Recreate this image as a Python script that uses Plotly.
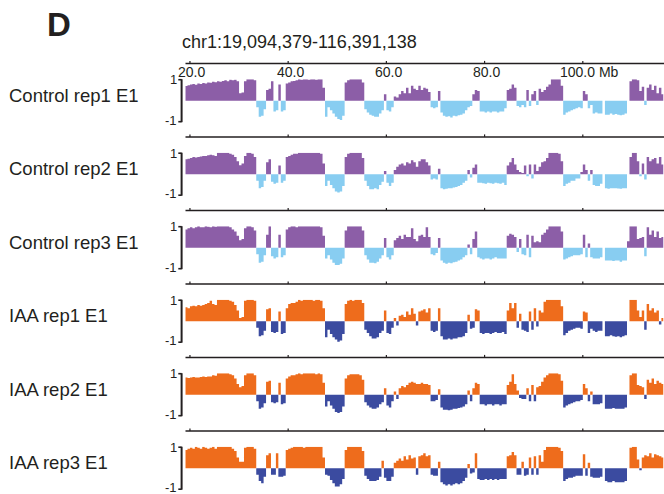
import plotly.graph_objects as go

# ---------------- data (E1 eigenvector, 0.5 Mb bins, chr1) ----------------
region_label = "chr1:19,094,379-116,391,138"
x_start_mb, x_end_mb = 19.094379, 116.391138
bin_size_mb = 0.5
bin_start_mb = [19.0 + bin_size_mb * i for i in range(195)]

ruler_ticks = [20, 40, 60, 80, 100]
ruler_tick_labels = ["20.0", "40.0", "60.0", "80.0", "100.0 Mb"]

track_names = ["Control rep1 E1", "Control rep2 E1", "Control rep3 E1",
               "IAA rep1 E1", "IAA rep2 E1", "IAA rep3 E1"]

ctrl_rep1 = [
    0.68, 0.72, 0.75, 0.78, 0.74, 0.80, 0.78, 0.82, 0.80, 0.85,
    0.83, 0.88, 0.86, 0.90, 0.88, 0.92, 0.95, 0.90, 0.97, 0.95,
    0.98, 0.90, 0.35, 0.38, 0.90, 1.00, 1.00, 1.00, 0.95, -0.30,
    -0.75, -0.70, -0.40, 0.50, 0.55, 0.90, -0.50, -0.45, 0.75, -0.50,
    -0.45, 0.80, 0.85, 0.90, 0.92, 0.95, 1.00, 0.97, 1.00, 1.00,
    0.98, 1.00, 1.00, 0.97, 1.00, 1.00, 0.60, -0.75, -0.30, -0.45,
    -0.60, -0.75, -0.85, -0.90, -0.70, 0.85, 0.95, 1.00, 1.00, 1.00,
    1.00, 1.00, 0.85, -0.40, -0.55, -0.65, -0.70, -0.75, -0.75, -0.60,
    -0.45, 0.30, -0.45, -0.50, -0.30, 0.20, 0.15, 0.30, 0.45, 0.35,
    0.60, 0.35, 0.70, 0.55, 0.50, 0.70, 0.50, 0.60, 0.55, 0.40,
    -0.30, -0.35, -0.30, 0.45, -0.55, -0.70, -0.75, -0.72, -0.78, -0.70,
    -0.72, -0.68, -0.65, -0.60, -0.45, -0.30, -0.25, 0.30, 0.50, 0.45,
    -0.50, -0.50, -0.55, -0.50, -0.55, -0.50, -0.50, -0.55, -0.50, -0.50,
    -0.35, 0.50, 0.55, 0.75, 0.60, -0.25, -0.30, -0.20, -0.30, 0.50,
    -0.25, 0.30, 0.45, -0.20, 0.55, 0.40, 0.50, 0.65, 0.75, 1.00,
    1.00, 1.00, 1.00, 0.70, -0.65, -0.55, -0.50, -0.45, -0.40, -0.35,
    -0.30, -0.35, 0.45, 0.30, -0.35, -0.20, -0.60, -0.55, -0.60, -0.60,
    0.00, -0.65, -0.65, -0.60, -0.65, -0.62, -0.65, -0.68, -0.65, -0.60,
    0.00, 0.90, 1.00, 1.00, 0.95, 0.45, 0.65, -0.20, 0.60, 0.75,
    0.50, 0.70, 0.35, 0.60, 0.30,
]

ctrl_rep2 = [
    0.70, 0.72, 0.75, 0.80, 0.78, 0.80, 0.82, 0.85, 0.85, 0.88,
    0.90, 0.88, 0.85, 1.00, 1.00, 1.00, 1.00, 1.00, 0.95, 0.90,
    0.80, 0.60, 0.42, 0.50, 0.85, 1.00, 1.00, 0.95, 0.80, -0.30,
    -0.65, -0.60, -0.30, 0.55, 0.70, -0.35, -0.45, -0.40, 0.40, -0.40,
    -0.30, 0.80, 0.85, 0.90, 0.95, 0.95, 1.00, 1.00, 1.00, 1.00,
    1.00, 1.00, 1.00, 1.00, 1.00, 0.95, 0.50, -0.55, -0.30, -0.50,
    -0.65, -0.80, -0.85, -0.80, -0.55, 0.80, 0.95, 1.00, 1.00, 1.00,
    1.00, 1.00, 0.75, -0.30, -0.55, -0.70, -0.70, -0.65, -0.70, -0.50,
    -0.35, 0.15, -0.40, -0.55, -0.40, 0.20, 0.35, 0.45, 0.50, 0.40,
    0.55, 0.50, 0.65, 0.55, 0.35, 0.60, 0.70, 0.70, 0.55, 0.40,
    -0.25, -0.20, -0.25, 0.25, -0.65, -0.70, -0.68, -0.65, -0.65, -0.62,
    -0.60, -0.55, -0.50, -0.40, -0.30, 0.20, -0.15, 0.30, 0.45, -0.40,
    -0.40, -0.42, -0.45, -0.40, -0.42, -0.45, -0.40, -0.42, -0.45, -0.40,
    -0.50, 0.40, 0.55, 0.75, 0.45, 0.20, 0.10, 0.05, 0.40, -0.10,
    0.45, -0.20, 0.45, 0.15, 0.35, 0.55, 0.60, 0.75, 1.00, 1.00,
    1.00, 1.00, 0.95, 0.60, -0.55, -0.45, -0.40, -0.30, -0.30, -0.20,
    -0.20, 0.10, 0.45, 0.20, -0.30, 0.20, -0.50, -0.55, -0.55, -0.45,
    0.00, -0.65, -0.68, -0.65, -0.65, -0.65, -0.67, -0.68, -0.65, -0.65,
    0.00, 0.80, 1.00, 1.00, 0.60, -0.10, 0.50, -0.25, 0.80, 0.60,
    0.70, 0.75, 0.50, 0.80, 0.45,
]

ctrl_rep3 = [
    0.85, 0.90, 0.95, 0.90, 0.95, 1.00, 0.95, 0.95, 1.00, 0.98,
    0.95, 1.00, 0.98, 1.00, 1.00, 1.00, 1.00, 1.00, 0.95, 0.85,
    0.75, 0.55, 0.35, 0.40, 0.90, 1.00, 1.00, 0.95, 0.80, -0.30,
    -0.70, -0.65, -0.35, 0.60, 1.00, -0.40, -0.50, -0.45, 0.60, -0.45,
    -0.35, 0.85, 0.95, 1.00, 1.00, 0.95, 1.00, 1.00, 1.00, 1.00,
    1.00, 1.00, 1.00, 1.00, 1.00, 0.95, 0.55, -0.50, -0.35, -0.55,
    -0.70, -0.80, -0.80, -0.75, -0.50, 0.80, 1.00, 1.00, 1.00, 1.00,
    1.00, 1.00, 0.80, -0.35, -0.55, -0.70, -0.70, -0.72, -0.65, -0.50,
    -0.35, 0.45, -0.45, -0.55, -0.35, 0.35, 0.45, 0.55, 0.40, 0.60,
    0.50, 0.50, 0.90, 0.40, 0.30, 0.55, 0.60, 0.50, 0.95, 0.50,
    -0.30, -0.35, -0.25, 0.45, -0.60, -0.70, -0.75, -0.70, -0.72, -0.68,
    -0.65, -0.60, -0.55, -0.45, -0.35, 0.15, -0.30, 0.40, 0.75, -0.45,
    -0.50, -0.55, -0.50, -0.50, -0.55, -0.50, -0.45, -0.50, -0.50, -0.50,
    -0.50, 0.55, 0.65, 0.60, 0.50, -0.20, 0.40, -0.30, -0.35, 0.60,
    -0.45, 0.55, 0.25, 0.30, 0.25, 0.60, 0.70, 0.85, 1.00, 1.00,
    1.00, 1.00, 1.00, 0.75, -0.55, -0.50, -0.45, -0.40, -0.35, -0.35,
    -0.35, -0.30, 0.60, -0.45, 0.20, -0.45, -0.50, -0.50, -0.50, -0.45,
    0.00, -0.60, -0.60, -0.60, -0.62, -0.60, -0.60, -0.65, -0.60, -0.60,
    0.30, 1.00, 1.00, 1.00, 0.40, 0.45, 0.50, -0.40, 0.95, 0.60,
    0.80, 0.50, 0.75, 0.45, 0.50,
]

iaa_rep1 = [
    0.65, 0.60, 0.70, 0.72, 0.70, 0.75, 0.72, 0.75, 0.80, 0.85,
    0.95, 0.80, 0.75, 1.00, 1.00, 1.00, 1.00, 1.00, 0.95, 0.90,
    0.75, 0.50, 0.15, 0.20, 0.95, 1.00, 1.00, 1.00, 0.95, -0.30,
    -0.70, -0.65, -0.45, 0.55, 0.60, -0.50, -0.55, -0.50, 0.45, -0.60,
    -0.55, 0.60, 0.80, 0.85, 0.85, 0.90, 1.00, 0.95, 1.00, 1.00,
    1.00, 1.00, 0.95, 1.00, 1.00, 0.95, 0.60, -0.75, -0.40, -0.60,
    -0.75, -0.85, -0.95, -0.90, -0.60, 0.80, 0.95, 1.00, 0.95, 1.00,
    1.00, 1.00, 0.85, -0.40, -0.55, -0.70, -0.80, -0.80, -0.75, -0.55,
    -0.45, 0.50, -0.55, -0.60, -0.30, 0.15, -0.20, 0.25, 0.30, 0.20,
    0.45, 0.30, 0.60, 0.35, -0.20, 0.45, 0.50, 0.55, 0.40, 0.60,
    -0.45, -0.50, -0.45, 0.60, -0.70, -0.85, -0.85, -0.80, -0.85, -0.80,
    -0.80, -0.75, -0.75, -0.70, -0.55, 0.30, -0.35, -0.30, 0.55, 0.50,
    -0.55, -0.60, -0.55, -0.55, -0.60, -0.55, -0.50, -0.55, -0.55, -0.50,
    -0.60, 0.50, 0.85, 0.60, 0.85, -0.30, 0.35, -0.40, -0.45, -0.50,
    0.45, -0.40, 0.60, -0.25, 0.50, 0.40, 0.90, 1.00, 1.00, 1.00,
    1.00, 1.00, 1.00, 0.70, -0.65, -0.55, -0.45, -0.40, -0.35, -0.30,
    -0.30, -0.35, 0.45, 0.40, -0.55, -0.35, -0.45, -0.50, -0.45, -0.45,
    0.00, -0.70, -0.70, -0.65, -0.70, -0.72, -0.70, -0.75, -0.70, -0.65,
    0.00, 1.00, 1.00, 1.00, 0.50, 0.20, 0.50, -0.40, 0.80, 0.50,
    0.60, 0.40, 0.50, -0.15, 0.15,
]

iaa_rep2 = [
    0.80, 0.78, 0.80, 0.82, 0.80, 0.80, 0.82, 0.85, 0.82, 0.85,
    0.85, 0.90, 0.88, 1.00, 1.00, 1.00, 1.00, 1.00, 0.95, 0.90,
    0.75, 0.50, 0.35, 0.40, 0.90, 1.00, 1.00, 1.00, 0.90, -0.30,
    -0.65, -0.60, -0.40, 0.60, 0.65, -0.35, -0.40, -0.35, 0.55, -0.45,
    -0.40, 0.75, 0.85, 0.90, 0.90, 0.95, 1.00, 0.95, 1.00, 1.00,
    1.00, 1.00, 1.00, 0.95, 1.00, 0.95, 0.55, -0.55, -0.30, -0.50,
    -0.65, -0.80, -0.85, -0.80, -0.55, 0.75, 0.90, 0.95, 0.95, 0.95,
    0.95, 0.90, 0.70, -0.35, -0.50, -0.60, -0.65, -0.65, -0.60, -0.45,
    -0.35, 0.30, -0.50, -0.60, -0.30, 0.15, -0.20, 0.30, 0.40, 0.35,
    0.45, 0.55, 0.60, 0.55, 0.50, 0.50, 0.55, 0.50, 0.50, 0.45,
    -0.30, -0.30, -0.25, 0.25, -0.60, -0.70, -0.70, -0.72, -0.70, -0.65,
    -0.65, -0.62, -0.60, -0.55, -0.45, 0.20, -0.30, 0.30, 0.55, 0.50,
    -0.45, -0.45, -0.50, -0.45, -0.45, -0.50, -0.45, -0.45, -0.50, -0.45,
    -0.45, 0.45, 0.60, 0.95, 0.50, 0.20, -0.15, -0.20, -0.20, 0.30,
    -0.30, 0.45, -0.30, 0.35, 0.40, 0.60, 0.80, 0.90, 1.00, 1.00,
    1.00, 1.00, 0.95, 0.65, -0.60, -0.50, -0.45, -0.40, -0.35, -0.30,
    -0.30, -0.25, 0.50, 0.30, -0.30, 0.15, -0.45, -0.45, -0.45, -0.40,
    0.00, -0.65, -0.65, -0.65, -0.62, -0.65, -0.65, -0.65, -0.65, -0.60,
    0.00, 0.90, 1.00, 1.00, 0.45, 0.40, 0.35, -0.20, 0.70, 0.55,
    0.75, 0.50, 0.65, 0.55, 0.50,
]

iaa_rep3 = [
    0.85, 0.90, 0.95, 0.90, 1.00, 0.95, 0.90, 1.00, 0.95, 0.90,
    0.95, 1.00, 0.90, 1.00, 1.00, 1.00, 1.00, 1.00, 1.00, 0.90,
    0.80, 0.50, 0.30, 0.30, 0.95, 1.00, 1.00, 1.00, 0.90, -0.30,
    -0.60, -0.70, -0.40, 0.60, 0.70, -0.30, -0.30, 0.70, -0.40, -0.40,
    -0.35, 0.85, 0.90, 0.95, 1.00, 1.00, 1.00, 1.00, 0.95, 1.00,
    1.00, 1.00, 1.00, 1.00, 1.00, 1.00, 0.50, -0.30, -0.35, -0.55,
    -0.70, -0.85, -0.85, -0.75, -0.50, 0.85, 1.00, 1.00, 1.00, 1.00,
    1.00, 1.00, 0.80, -0.35, -0.50, -0.60, -0.60, -0.60, -0.55, -0.40,
    0.35, -0.45, -0.60, -0.60, -0.40, 0.25, 0.35, 0.45, 0.35, 0.55,
    0.40, 0.60, 0.45, 0.50, -0.30, 0.55, 0.60, 0.70, 0.55, 0.60,
    -0.30, -0.35, -0.35, 0.30, -0.65, -0.75, -0.80, -0.75, -0.80, -0.75,
    -0.70, -0.75, -0.70, -0.60, -0.45, 0.20, -0.25, -0.20, 0.70, -0.50,
    -0.55, -0.55, -0.50, -0.55, -0.50, -0.55, -0.50, -0.55, -0.50, -0.50,
    -0.50, 0.55, 0.60, 0.75, 0.60, -0.30, -0.30, 0.30, -0.35, -0.30,
    0.50, -0.30, 0.55, -0.30, 0.60, 0.30, 0.85, 1.00, 1.00, 1.00,
    1.00, 1.00, 0.95, 0.80, -0.60, -0.50, -0.45, -0.45, -0.40, -0.35,
    -0.35, -0.35, 0.65, -0.35, 0.25, -0.40, -0.45, -0.45, -0.45, -0.40,
    0.00, -0.60, -0.65, -0.65, -0.60, -0.65, -0.65, -0.65, -0.65, -0.60,
    0.00, 0.95, 1.00, 1.00, 0.40, -0.10, 0.50, 0.60, 0.55, 0.70,
    0.50, 0.65, 0.60, 0.55, 0.50,
]

tracks = [ctrl_rep1, ctrl_rep2, ctrl_rep3, iaa_rep1, iaa_rep2, iaa_rep3]
pos_colors = ["#8c5ea7", "#8c5ea7", "#8c5ea7", "#ee6c1c", "#ee6c1c", "#ee6c1c"]
neg_colors = ["#88cdf1", "#88cdf1", "#88cdf1", "#3b4ba0", "#3b4ba0", "#3b4ba0"]

# ---------------- layout geometry (pixels) ----------------
W, H = 664, 494
X_LEFT_PX, X_RIGHT_PX = 185.5, 663.3
BASE0_PX, TRACK_STEP_PX, HALF_PX = 100.7, 73.5, 21.5
RULER_OFFSET_PX = 37.3
FONT = "Liberation Sans, Arial, Helvetica, sans-serif"
INK = "#231f20"


def py(px):
    return 1 - px / H


def pxx(px):
    return px / W


fig = go.Figure()
edges = bin_start_mb + [bin_start_mb[-1] + bin_size_mb]

shapes, annotations = [], []
layout_axes = {}

for k, vals in enumerate(tracks):
    yname = "y" if k == 0 else f"y{k + 1}"
    axname = "yaxis" if k == 0 else f"yaxis{k + 1}"
    base = BASE0_PX + TRACK_STEP_PX * k
    layout_axes[axname] = dict(domain=[py(base + HALF_PX), py(base - HALF_PX)],
                               range=[-1, 1], visible=False, fixedrange=True,
                               anchor="x")
    ypos = [max(v, 0) for v in vals] + [max(vals[-1], 0)]
    yneg = [min(v, 0) for v in vals] + [min(vals[-1], 0)]
    fig.add_trace(go.Scatter(x=edges, y=ypos, yaxis=yname, mode="lines",
                             line=dict(width=0, shape="hv"), fill="tozeroy",
                             fillcolor=pos_colors[k], hoverinfo="skip",
                             showlegend=False))
    fig.add_trace(go.Scatter(x=edges, y=yneg, yaxis=yname, mode="lines",
                             line=dict(width=0, shape="hv"), fill="tozeroy",
                             fillcolor=neg_colors[k], hoverinfo="skip",
                             showlegend=False))

    # ruler line and ticks
    ry = base - RULER_OFFSET_PX
    shapes.append(dict(type="line", xref="paper", yref="paper",
                       x0=pxx(X_LEFT_PX), x1=1.0, y0=py(ry), y1=py(ry),
                       line=dict(color=INK, width=1.5)))
    for t in ruler_ticks:
        shapes.append(dict(type="line", xref="x", yref="paper", x0=t, x1=t,
                           y0=py(ry), y1=py(ry - 2.5),
                           line=dict(color=INK, width=1.2)))
    # bracket
    bx = 181.6
    shapes.append(dict(type="line", xref="paper", yref="paper", x0=pxx(bx), x1=pxx(bx),
                       y0=py(base - HALF_PX), y1=py(base + HALF_PX),
                       line=dict(color=INK, width=2)))
    for yy in (base - HALF_PX + 0.5, base + HALF_PX - 0.5):
        shapes.append(dict(type="line", xref="paper", yref="paper",
                           x0=pxx(178.3), x1=pxx(bx), y0=py(yy), y1=py(yy),
                           line=dict(color=INK, width=1.6)))
    annotations.append(dict(text="1", xref="paper", yref="paper", x=pxx(178.5),
                            y=py(base - HALF_PX + 0.5), xanchor="right", yanchor="middle",
                            showarrow=False, font=dict(family=FONT, size=13, color=INK)))
    annotations.append(dict(text="-1", xref="paper", yref="paper", x=pxx(178.5),
                            y=py(base + HALF_PX - 2), xanchor="right", yanchor="middle",
                            showarrow=False, font=dict(family=FONT, size=13, color=INK)))
    annotations.append(dict(text=track_names[k], xref="paper", yref="paper", x=pxx(7),
                            y=py(base - 5.5), xanchor="left", yanchor="middle",
                            showarrow=False, font=dict(family=FONT, size=18.5, color=INK)))

# tick labels (first track only)
for t, lab in zip(ruler_ticks, ruler_tick_labels):
    xt = t + (1.3 if lab.endswith("Mb") else 0.4)
    annotations.append(dict(text=lab, xref="x", yref="paper", x=xt, y=py(72.5),
                            xanchor="center", yanchor="middle", showarrow=False,
                            font=dict(family=FONT, size=14, color=INK)))

annotations.append(dict(text="<b>D</b>", xref="paper", yref="paper", x=pxx(45), y=py(25),
                        xanchor="left", yanchor="middle", showarrow=False,
                        font=dict(family=FONT, size=33, color=INK)))
annotations.append(dict(text=region_label, xref="paper", yref="paper", x=pxx(179.5), y=py(42),
                        xanchor="left", yanchor="middle", showarrow=False,
                        font=dict(family=FONT, size=18, color=INK)))

fig.update_layout(
    width=W, height=H, margin=dict(l=0, r=0, t=0, b=0),
    paper_bgcolor="white", plot_bgcolor="white",
    xaxis=dict(domain=[pxx(X_LEFT_PX), pxx(X_RIGHT_PX)], range=[x_start_mb, x_end_mb],
               visible=False, fixedrange=True),
    shapes=shapes, annotations=annotations, showlegend=False,
    **layout_axes,
)

fig.write_html("out.html", config={"displayModeBar": False})
